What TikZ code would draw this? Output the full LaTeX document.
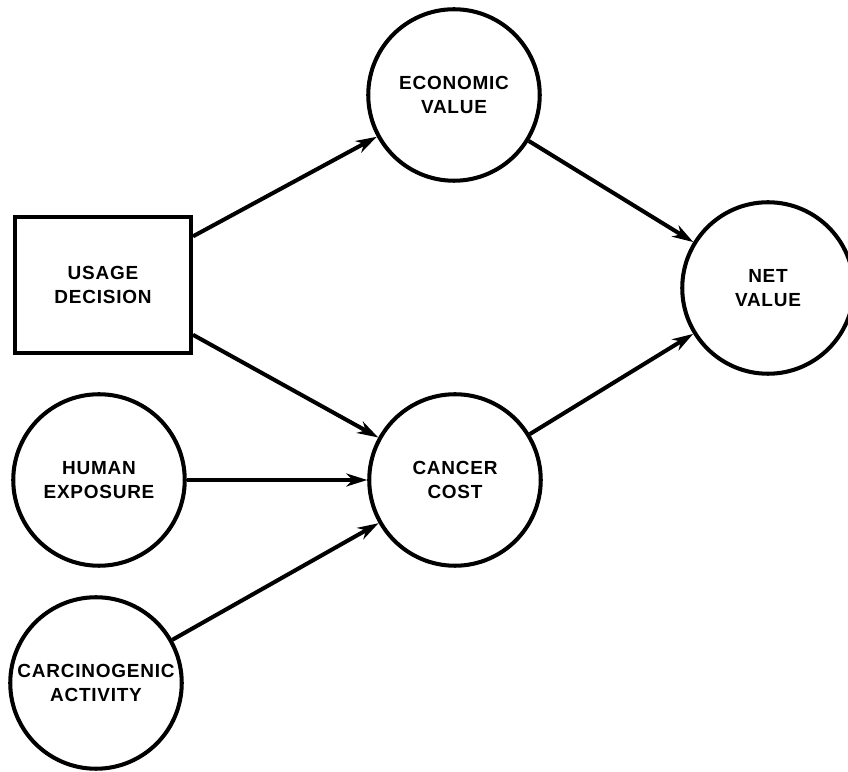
\documentclass[tikz,border=0pt]{standalone}
\usepackage{fontspec}
\setmainfont{Liberation Sans}[LetterSpace=4]
\usetikzlibrary{arrows.meta}
\tikzset{
	chance/.style={draw, circle, line width=2.3pt, minimum size=3.43cm, inner sep=0pt, align=center, font=\fontsize{10.8}{13.8}\selectfont\bfseries},
	decision/.style={draw, rectangle, line width=2.3pt, minimum width=3.52cm, minimum height=2.72cm, align=center, font=\fontsize{10.8}{13.8}\selectfont\bfseries},
	>={Stealth[length=4.2mm, width=2.6mm, inset=1.3mm]}
}
\begin{document}
\begin{tikzpicture}
\useasboundingbox (0, 0) rectangle (16.96, 15.44);
\node [style=decision] (0) at (2.06, 9.74) {USAGE\\DECISION};
\node [style=chance] (1) at (1.98, 5.84) {HUMAN\\EXPOSURE};
\node [style=chance] (2) at (1.92, 1.78) {CARCINOGENIC\\ACTIVITY};
\node [style=chance] (3) at (9.08, 13.54) {ECONOMIC\\VALUE};
\node [style=chance] (4) at (9.10, 5.84) {CANCER\\COST};
\node [style=chance] (5) at (15.36, 9.68) {NET\\VALUE};
\draw [->, line width=2.3pt] (0) to (3);
\draw [->, line width=2.3pt] (0) to (4);
\draw [->, line width=2.3pt] (1) to (4);
\draw [->, line width=2.3pt] (2) to (4);
\draw [->, line width=2.3pt] (3) to (5);
\draw [->, line width=2.3pt] (4) to (5);
\end{tikzpicture}
\end{document}
